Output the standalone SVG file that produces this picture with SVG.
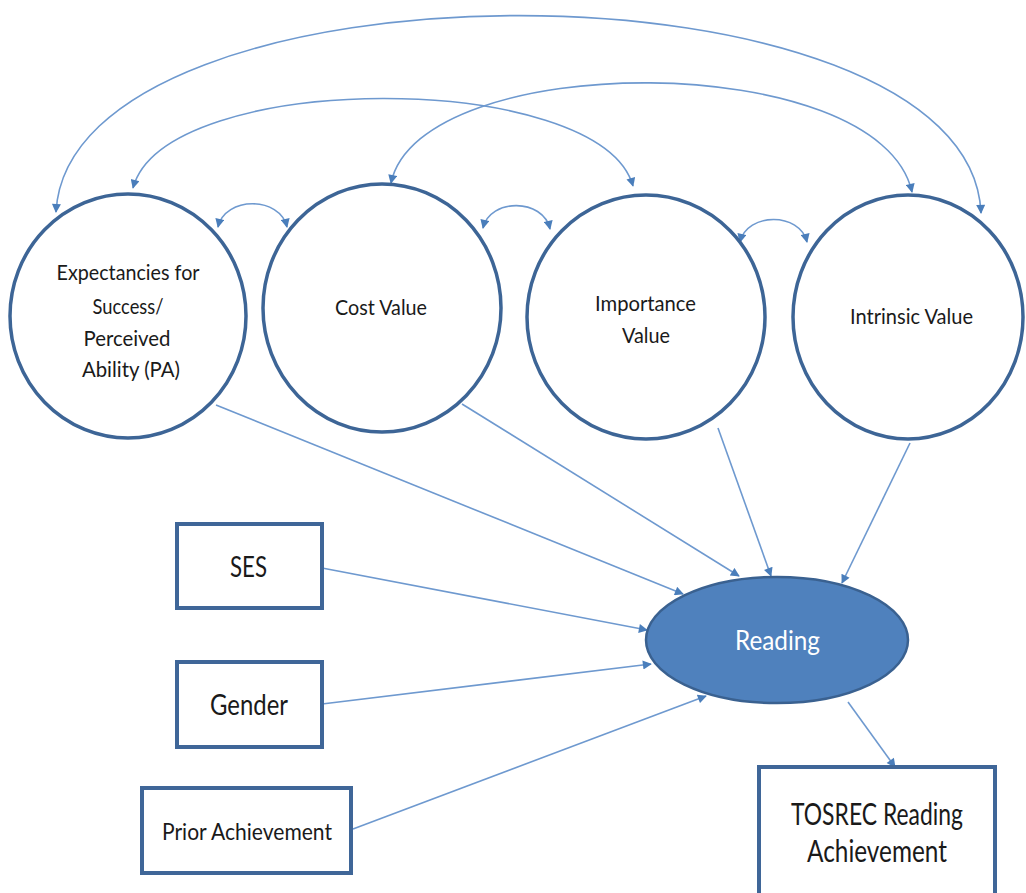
<svg xmlns="http://www.w3.org/2000/svg" width="1026" height="893" viewBox="0 0 1026 893">
<style>
.circ{fill:#ffffff;stroke:#3d6596;stroke-width:3.5}
.box{fill:#ffffff;stroke:#3f6698;stroke-width:4}
.con{fill:none;stroke:#6e99cf;stroke-width:1.6}
.t{font-family:Lato,"Liberation Sans",sans-serif;fill:#1a1a1a;text-anchor:middle}
.c{font-size:22px}
</style>
<defs>
<marker id="ah" viewBox="0 0 10 10" refX="9" refY="5" markerWidth="11" markerHeight="9" markerUnits="userSpaceOnUse" orient="auto-start-reverse">
<path d="M0,0 L10,5 L0,10 z" fill="#4a7ebb"/>
</marker>
</defs>
<rect width="1026" height="893" fill="#ffffff"/>
<g id="connectors">
<path class="con" d="M56,212 C 70,-50 970,-50 981,213" marker-start="url(#ah)" marker-end="url(#ah)"/>
<path class="con" d="M133,188 C 165,69 600,69 633,186" marker-start="url(#ah)" marker-end="url(#ah)"/>
<path class="con" d="M391,183 C 420,48 880,48 912,192" marker-start="url(#ah)" marker-end="url(#ah)"/>
<path class="con" d="M218,227 C 225,196 280,196 287,227" marker-start="url(#ah)" marker-end="url(#ah)"/>
<path class="con" d="M483,228 C 490,198 543,198 550,229" marker-start="url(#ah)" marker-end="url(#ah)"/>
<path class="con" d="M740,242 C 747,212 800,212 807,242" marker-start="url(#ah)" marker-end="url(#ah)"/>
<path class="con" d="M216,405 L683,594" marker-end="url(#ah)"/>
<path class="con" d="M462,404 L739,576" marker-end="url(#ah)"/>
<path class="con" d="M718,428 L771,576" marker-end="url(#ah)"/>
<path class="con" d="M910,443 L842,583" marker-end="url(#ah)"/>
<path class="con" d="M322,568 L647,630" marker-end="url(#ah)"/>
<path class="con" d="M322,704 L651,664" marker-end="url(#ah)"/>
<path class="con" d="M353,829 L706,696" marker-end="url(#ah)"/>
<path class="con" d="M848,702 Q 872,735 895,767" marker-end="url(#ah)"/>
</g>
<g id="node-pa">
<ellipse class="circ" cx="128" cy="316" rx="118" ry="122"/>
<text class="t c" x="128" y="280" textLength="143" lengthAdjust="spacingAndGlyphs">Expectancies for</text>
<text class="t c" x="128" y="314" textLength="71" lengthAdjust="spacingAndGlyphs">Success/</text>
<text class="t c" x="127" y="346" textLength="87" lengthAdjust="spacingAndGlyphs">Perceived</text>
<text class="t c" x="131" y="377" textLength="98" lengthAdjust="spacingAndGlyphs">Ability  (PA)</text>
</g>
<g id="node-cost">
<ellipse class="circ" cx="382" cy="308" rx="119" ry="124"/>
<text class="t c" x="381" y="315" textLength="92" lengthAdjust="spacingAndGlyphs">Cost Value</text>
</g>
<g id="node-importance">
<ellipse class="circ" cx="646" cy="317" rx="119" ry="122"/>
<text class="t c" x="645.5" y="311" textLength="101" lengthAdjust="spacingAndGlyphs">Importance</text>
<text class="t c" x="646" y="343" textLength="48" lengthAdjust="spacingAndGlyphs">Value</text>
</g>
<g id="node-intrinsic">
<ellipse class="circ" cx="908" cy="317" rx="115" ry="122"/>
<text class="t c" x="911.5" y="324" textLength="123" lengthAdjust="spacingAndGlyphs">Intrinsic Value</text>
</g>
<g id="node-reading">
<ellipse cx="777" cy="640" rx="131" ry="63" fill="#4f81bd" stroke="#3a6190" stroke-width="2.5"/>
<text class="t" x="777.5" y="650" font-size="27" style="fill:#ffffff" textLength="85" lengthAdjust="spacingAndGlyphs">Reading</text>
</g>
<g id="node-ses">
<rect class="box" x="177" y="524" width="145" height="84"/>
<text class="t" x="248.5" y="577" font-size="28" textLength="37" lengthAdjust="spacingAndGlyphs">SES</text>
</g>
<g id="node-gender">
<rect class="box" x="177" y="662" width="145" height="85"/>
<text class="t" x="249" y="715" font-size="28" textLength="78" lengthAdjust="spacingAndGlyphs">Gender</text>
</g>
<g id="node-prior">
<rect class="box" x="142" y="788" width="209" height="85"/>
<text class="t" x="247" y="840" font-size="24" textLength="170" lengthAdjust="spacingAndGlyphs">Prior Achievement</text>
</g>
<g id="node-tosrec">
<rect class="box" x="759" y="767" width="236" height="140"/>
<text class="t" x="877" y="825" font-size="31" textLength="172" lengthAdjust="spacingAndGlyphs">TOSREC Reading</text>
<text class="t" x="877" y="862" font-size="31" textLength="140" lengthAdjust="spacingAndGlyphs">Achievement</text>
</g>
</svg>
